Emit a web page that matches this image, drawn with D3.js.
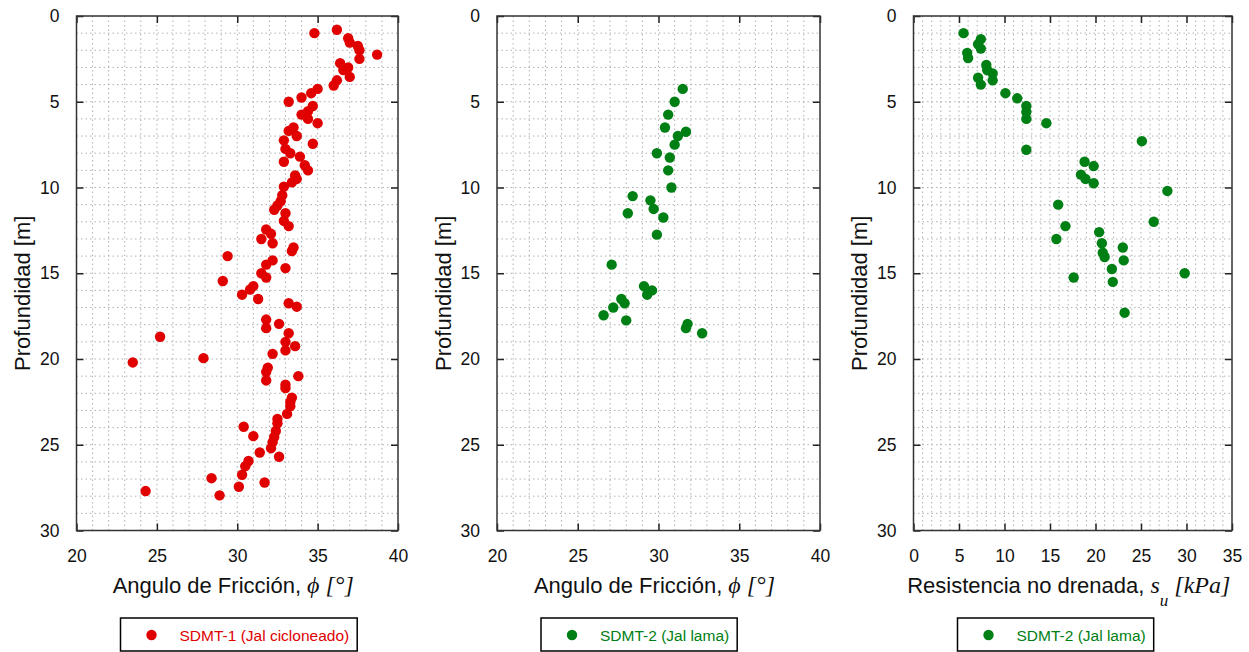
<!DOCTYPE html>
<html>
<head>
<meta charset="utf-8">
<script src="https://cdn.jsdelivr.net/npm/d3@7"></script>
<style>
  body { margin: 0; background: #fff; }
  svg { display: block; font-family: "Liberation Sans", Arial, sans-serif; }
</style>
</head>
<body>
<svg id="chart"></svg>
<script>
// SDMT-1 (Jal cicloneado): friction angle [deg] vs depth [m]
let phi1 = [34.8, 36.2, 36.9, 37.0, 37.5, 37.6, 38.7, 37.6, 36.4, 36.9, 36.6, 37.0, 36.2, 36.0,
  35.0, 34.6, 34.0, 33.2, 34.7, 34.4, 34.0, 34.4, 35.0, 33.5, 33.2, 33.7, 32.9, 34.7, 33.0, 33.3,
  33.9, 34.2, 34.4, 32.9, 33.6, 33.7, 33.4, 32.9, 32.8, 32.7, 32.5, 32.3, 33.0, 32.9, 33.2, 31.8,
  32.1, 31.5, 32.2, 29.4, 33.5, 33.4, 32.2, 31.8, 33.0, 31.5, 31.8, 29.1, 31.0, 30.8, 30.3, 31.3,
  33.2, 33.7, 25.2, 31.8, 31.8, 32.6, 33.2, 33.0, 33.6, 33.0, 32.2, 23.5, 27.9, 24.3, 31.9, 31.8,
  31.8, 33.8, 33.0, 33.0, 33.4, 33.3, 33.3, 33.1, 32.5, 32.5, 32.4, 32.3, 32.2, 32.1, 30.4, 31.0,
  31.4, 32.6, 30.7, 30.5, 30.3, 28.4, 30.1, 31.7, 28.9];
let depth1 = [1.0, 0.8, 1.3, 1.55, 1.75, 2.0, 2.25, 2.5, 2.75, 3.0, 3.15, 3.55, 3.75, 4.05,
  4.25, 4.5, 4.75, 5.0, 5.25, 5.55, 5.75, 6.0, 6.25, 6.5, 6.7, 7.0, 7.25, 7.45, 7.75, 8.0,
  8.2, 8.7, 9.0, 8.5, 9.3, 9.5, 9.7, 9.95, 10.45, 10.8, 11.05, 11.3, 11.5, 11.95, 12.25, 12.45,
  12.7, 13.0, 13.25, 14.0, 13.5, 13.7, 14.25, 14.5, 14.7, 15.0, 15.25, 15.45, 15.75, 15.95, 16.25, 16.5,
  16.75, 16.95, 18.7, 17.7, 18.2, 17.95, 18.5, 19.0, 19.25, 19.5, 19.7, 20.2, 19.95, 27.7, 20.5, 20.75,
  21.25, 21.0, 21.5, 21.7, 22.25, 22.5, 22.75, 23.2, 23.5, 23.75, 24.2, 24.55, 24.85, 25.2, 23.95, 24.5,
  25.45, 25.7, 25.95, 26.25, 26.75, 26.95, 27.45, 27.2, 27.95];

// SDMT-2 (Jal lama): friction angle [deg] vs depth [m]
let phi2 = [31.5, 31.0, 30.6, 30.4, 31.7, 31.2, 31.0, 29.9, 30.7, 30.6, 30.8, 28.4, 29.5, 29.7,
  28.1, 30.3, 29.9, 27.1, 29.1, 29.6, 29.3, 27.7, 27.9, 27.2, 26.6, 28.0, 31.8, 31.7, 32.7];
let depth2 = [4.25, 5.0, 5.75, 6.5, 6.75, 7.0, 7.5, 8.0, 8.25, 9.0, 10.0, 10.5, 10.75, 11.25,
  11.5, 11.75, 12.75, 14.5, 15.75, 16.0, 16.25, 16.5, 16.75, 17.0, 17.45, 17.75, 17.95, 18.2, 18.5];

// SDMT-2 (Jal lama): undrained strength [kPa] vs depth [m]
let su2 = [5.5, 7.4, 7.1, 7.4, 5.9, 6.0, 8.0, 8.1, 8.7, 7.1, 8.7, 7.4, 10.1, 11.4, 12.4, 12.4,
  12.4, 14.6, 25.1, 12.4, 18.8, 19.8, 18.4, 18.9, 19.8, 27.9, 15.9, 16.7, 15.7, 26.4, 20.4, 20.7,
  20.8, 21.0, 23.0, 23.1, 21.8, 21.9, 17.6, 29.8, 23.2];
let depthSu2 = [1.0, 1.35, 1.65, 1.9, 2.15, 2.45, 2.85, 3.15, 3.35, 3.6, 3.75, 4.0, 4.5, 4.8, 5.25, 5.6,
  6.0, 6.25, 7.3, 7.8, 8.5, 8.75, 9.25, 9.5, 9.75, 10.2, 11.0, 12.25, 13.0, 12.0, 12.6, 13.25,
  13.8, 14.05, 13.5, 14.25, 14.75, 15.5, 15.25, 15.0, 17.3];

let depthTicks = [0, 5, 10, 15, 20, 25, 30];
let phiTicks = [20, 25, 30, 35, 40];
let suTicks = [0, 5, 10, 15, 20, 25, 30, 35];

let red = "#e00000";
let green = "#008014";

let W = 1249, H = 652;
let svg = d3.select("#chart").attr("width", W).attr("height", H);
svg.append("rect").attr("width", W).attr("height", H).attr("fill", "#fff");

let plotTop = 16, plotBottom = 530.5;

// one panel: depth on y (downwards), some property on x
function drawPanel(opt) {
  let x = d3.scaleLinear().domain(opt.xDomain).range([opt.left, opt.right]);
  let y = d3.scaleLinear().domain([0, 30]).range([plotTop, plotBottom]);
  let g = svg.append("g");

  // dotted grid every unit
  let xGrid = d3.range(opt.xDomain[0] + 1, opt.xDomain[1], 1);
  let yGrid = d3.range(1, 30, 1);
  g.selectAll("line.gx").data(xGrid).join("line")
    .attr("x1", d => x(d)).attr("x2", d => x(d)).attr("y1", plotTop).attr("y2", plotBottom)
    .attr("stroke", "#b0b0b0").attr("stroke-dasharray", "1.5,3");
  g.selectAll("line.gy").data(yGrid).join("line")
    .attr("x1", opt.left).attr("x2", opt.right).attr("y1", d => y(d)).attr("y2", d => y(d))
    .attr("stroke", "#b0b0b0").attr("stroke-dasharray", "1.5,3");

  // axes with inward ticks on all four sides
  let tl = 7;
  g.append("g").attr("transform", `translate(0,${plotBottom})`)
    .call(d3.axisBottom(x).tickValues(opt.xTicks).tickSize(-tl).tickPadding(19));
  g.append("g").attr("transform", `translate(0,${plotTop})`)
    .call(d3.axisTop(x).tickValues(opt.xTicks).tickSize(-tl).tickFormat(""));
  g.append("g").attr("transform", `translate(${opt.left},0)`)
    .call(d3.axisLeft(y).tickValues(depthTicks).tickSize(-tl).tickPadding(17));
  g.append("g").attr("transform", `translate(${opt.right},0)`)
    .call(d3.axisRight(y).tickValues(depthTicks).tickSize(-tl).tickFormat(""));
  g.selectAll(".domain").remove();
  g.selectAll(".tick line").attr("stroke", "#222").attr("stroke-width", 1.5);
  g.selectAll(".tick text").attr("font-size", 17.5).attr("fill", "#111")
    .attr("font-family", "Liberation Sans, Arial, sans-serif");

  g.append("rect").attr("x", opt.left).attr("y", plotTop)
    .attr("width", opt.right - opt.left).attr("height", plotBottom - plotTop)
    .attr("fill", "none").attr("stroke", "#333").attr("stroke-width", 1.5);

  // points
  g.selectAll("circle.pt").data(opt.xs).join("circle")
    .attr("cx", d => x(d)).attr("cy", (d, i) => y(opt.ys[i])).attr("r", 5.2)
    .attr("fill", opt.color);

  // y title
  g.append("text")
    .attr("transform", `translate(${opt.left - 54},${(plotTop + plotBottom) / 2 + 20}) rotate(-90)`)
    .attr("text-anchor", "middle").attr("dy", "0.35em")
    .attr("font-size", 22).attr("fill", "#111").text("Profundidad [m]");

  // x title
  let t = g.append("text").attr("x", (opt.left + opt.right) / 2 - 4).attr("y", 593)
    .attr("text-anchor", "middle").attr("font-size", 22).attr("fill", "#111");
  opt.xTitle(t);

  // legend
  let lg = g.append("g");
  let bx = opt.left + 44;
  let lt = lg.append("text").attr("x", bx + 59).attr("y", 640.5)
    .attr("font-size", 15.5).attr("fill", opt.color).text(opt.label);
  let tw = lt.node().getComputedTextLength();
  lg.insert("rect", "text").attr("x", bx).attr("y", 618).attr("width", tw + 67).attr("height", 33)
    .attr("fill", "#fff").attr("stroke", "#000").attr("stroke-width", 1.5);
  lg.append("circle").attr("cx", bx + 31).attr("cy", 635).attr("r", 5.2).attr("fill", opt.color);
}

function phiTitle(t) {
  t.append("tspan").text("Angulo de Fricción, ");
  t.append("tspan").attr("font-family", "Liberation Serif, Times New Roman, serif")
    .attr("font-style", "italic").attr("font-size", 24).text("ϕ [°]");
}

function suTitle(t) {
  t.append("tspan").text("Resistencia no drenada, ");
  t.append("tspan").attr("font-family", "Liberation Serif, Times New Roman, serif")
    .attr("font-style", "italic").attr("font-size", 24).text("s");
  t.append("tspan").attr("font-family", "Liberation Serif, Times New Roman, serif")
    .attr("font-style", "italic").attr("font-size", 17).attr("dy", 13).text("u");
  t.append("tspan").attr("font-family", "Liberation Serif, Times New Roman, serif")
    .attr("font-style", "italic").attr("font-size", 24).attr("dy", -13).text(" [kPa]");
}

drawPanel({ left: 76.5, right: 398, xDomain: [20, 40], xTicks: phiTicks, xs: phi1, ys: depth1,
  color: red, label: "SDMT-1 (Jal cicloneado)", xTitle: phiTitle });
drawPanel({ left: 497, right: 820, xDomain: [20, 40], xTicks: phiTicks, xs: phi2, ys: depth2,
  color: green, label: "SDMT-2 (Jal lama)", xTitle: phiTitle });
drawPanel({ left: 913.5, right: 1232, xDomain: [0, 35], xTicks: suTicks, xs: su2, ys: depthSu2,
  color: green, label: "SDMT-2 (Jal lama)", xTitle: suTitle });
</script>
</body>
</html>
